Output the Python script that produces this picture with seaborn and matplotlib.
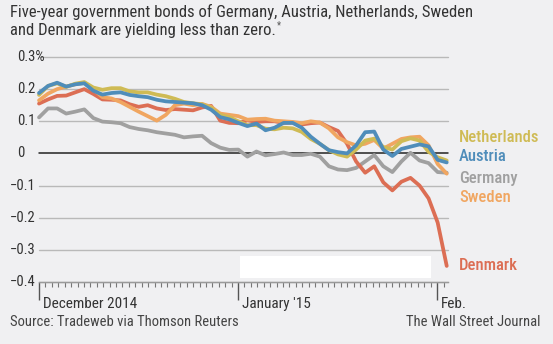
import numpy as np
import pandas as pd
import matplotlib
matplotlib.use("Agg")
import matplotlib.pyplot as plt
import seaborn as sns
from matplotlib import font_manager
from matplotlib.patches import Rectangle
from matplotlib.ticker import FixedLocator, MultipleLocator, NullFormatter

# ---------------- data ----------------
series_names = ["Netherlands", "Austria", "Germany", "Sweden", "Denmark"]
series_colors = ["#cfbb55", "#4f8dba", "#a0a0a0", "#f0a661", "#dc6e54"]

netherlands = [0.182, 0.210, 0.218, 0.207, 0.217, 0.222, 0.205, 0.198, 0.203, 0.203,
               0.193, 0.190, 0.190, 0.183, 0.178, 0.170, 0.160, 0.156, 0.153, 0.142,
               0.120, 0.113, 0.100, 0.088, 0.088, 0.077, 0.075, 0.080, 0.078, 0.067,
               0.045, 0.030, 0.010, -0.003, -0.010, 0.012, 0.040, 0.046, 0.020, 0.012,
               0.038, 0.047, 0.040, 0.005, -0.012, -0.022]
austria = [0.188, 0.210, 0.220, 0.208, 0.215, 0.218, 0.195, 0.183, 0.188, 0.190,
           0.182, 0.178, 0.175, 0.167, 0.162, 0.160, 0.158, 0.156, 0.150, 0.136,
           0.113, 0.106, 0.095, 0.085, 0.093, 0.072, 0.080, 0.095, 0.095, 0.080,
           0.052, 0.030, 0.010, 0.004, 0.000, 0.025, 0.066, 0.068, 0.012, -0.008,
           0.014, 0.021, 0.028, 0.022, -0.020, -0.028]
germany = [0.112, 0.140, 0.140, 0.124, 0.130, 0.137, 0.110, 0.099, 0.097, 0.094,
           0.082, 0.076, 0.072, 0.066, 0.062, 0.058, 0.050, 0.053, 0.055, 0.032,
           0.018, 0.011, 0.012, -0.010, 0.006, -0.006, -0.002, 0.003, -0.005, -0.005,
           -0.001, -0.010, -0.040, -0.050, -0.052, -0.045, -0.025, -0.005, -0.040, -0.058,
           -0.025, 0.002, -0.022, -0.030, -0.058, -0.060]
sweden = [0.165, 0.186, 0.200, 0.208, 0.215, 0.220, 0.200, 0.175, 0.171, 0.160,
          0.145, 0.130, 0.116, 0.102, 0.120, 0.150, 0.155, 0.150, 0.154, 0.145,
          0.124, 0.120, 0.116, 0.105, 0.107, 0.108, 0.102, 0.100, 0.098, 0.094,
          0.100, 0.096, 0.078, 0.050, 0.035, 0.025, 0.030, 0.042, 0.015, 0.030,
          0.045, 0.050, 0.052, 0.025, -0.033, -0.063]
denmark = [0.155, 0.168, 0.179, 0.180, 0.190, 0.200, 0.185, 0.168, 0.167, 0.165,
           0.153, 0.145, 0.150, 0.140, 0.135, 0.138, 0.136, 0.134, 0.143, 0.148,
           0.102, 0.095, 0.094, 0.103, 0.098, 0.100, 0.100, 0.095, 0.096, 0.090,
           0.094, 0.096, 0.082, 0.070, 0.030, -0.025, -0.060, -0.040, -0.090, -0.115,
           -0.088, -0.076, -0.100, -0.140, -0.215, -0.350]

# observation dates span Dec 1, 2014 .. Feb 2, 2015 (days since Dec 1)
obs_start_day, obs_end_day = 0.0, 63.5
month_ticks_days = [0, 31, 62]
month_tick_labels = ["December 2014", "January '15", "Feb."]
y_ticks = [0.3, 0.2, 0.1, 0.0, -0.1, -0.2, -0.3, -0.4]
y_tick_labels = ["0.3%", "0.2", "0.1", "0", "\u22120.1", "\u22120.2", "\u22120.3", "\u22120.4"]

title_lines = ["Five-year government bonds of Germany, Austria, Netherlands, Sweden",
               "and Denmark are yielding less than zero."]
footnote_mark = "*"
source_text = "Source: Tradeweb via Thomson Reuters"
credit_text = "The Wall Street Journal"

# ---------------- build long table ----------------
values = [netherlands, austria, germany, sweden, denmark]
n = len(netherlands)
days = np.linspace(obs_start_day, obs_end_day, n)
df = pd.concat([pd.DataFrame({"day": days, "yield": v, "country": name})
                for name, v in zip(series_names, values)], ignore_index=True)

# ---------------- fonts ----------------
sns.set_theme(style="white")
avail = {f.name for f in font_manager.fontManager.ttflist}
family = None
for cand in ["Liberation Sans Narrow", "Roboto Condensed", "Open Sans Condensed", "Roboto", "DejaVu Sans"]:
    if cand in avail:
        family = cand
        break
plt.rcParams["font.family"] = [family, "DejaVu Sans"]

BG = "#f0f0f2"
W, H = 553, 344
fig = plt.figure(figsize=(W / 100, H / 100), dpi=100, facecolor=BG)
ax = fig.add_axes([39 / W, 1 - 282 / H, (448 - 39) / W, (282 - 57) / H])
ax.set_facecolor(BG)

# gridlines
for yv in y_ticks:
    if yv == 0:
        continue
    ax.axhline(yv, color="#b9b9b9", lw=1.0, zorder=1)
ax.axhline(0, color="#222222", lw=1.1, zorder=2)

palette = dict(zip(series_names, series_colors))
sns.lineplot(data=df, x="day", y="yield", hue="country", palette=palette,
             hue_order=["Germany", "Denmark", "Sweden", "Netherlands", "Austria"],
             lw=2.7, legend=False, ax=ax, zorder=3, solid_joinstyle="round")
for line in ax.get_lines():
    line.set_clip_on(False)

ax.set_xlim(0, 63.7)
ax.set_ylim(-0.4, 0.3)
for s in ["top", "right", "left"]:
    ax.spines[s].set_visible(False)
ax.spines["bottom"].set_color("#9a9a9a")
ax.spines["bottom"].set_linewidth(1.0)
ax.set_xlabel("")
ax.set_ylabel("")
ax.set_yticks([])
ax.xaxis.set_major_locator(FixedLocator(month_ticks_days))
ax.xaxis.set_minor_locator(MultipleLocator(1))
ax.xaxis.set_major_formatter(NullFormatter())
ax.tick_params(axis="x", which="major", length=13, width=1.0, color="#555555", direction="out", bottom=True)
ax.tick_params(axis="x", which="minor", length=3.5, width=0.8, color="#777777", direction="out", bottom=True)

# x month labels
for d, lab in zip(month_ticks_days, month_tick_labels):
    ax.annotate(lab, xy=(d, -0.4), xycoords="data", xytext=(3, -19), textcoords="offset points",
                ha="left", va="baseline", fontsize=11, color="#333333")

# y labels (digits left aligned, minus hanging)
for yv, lab in zip(y_ticks, y_tick_labels):
    ypix = 1 - (57 + (0.3 - yv) / 0.1 * (225 / 7)) / H
    xpix = (10 if lab.startswith("\u2212") else 17) / W
    fig.text(xpix, ypix, lab, ha="left", va="center", fontsize=10.5, color="#333333")

# end labels
end_label_y = {"Netherlands": 137, "Austria": 157, "Germany": 178, "Sweden": 198, "Denmark": 266}
for name, col in zip(series_names, series_colors):
    fig.text(459 / W, 1 - end_label_y[name] / H, name, ha="left", va="center",
             fontsize=12, color=col, fontweight="medium")

# title and footer
fig.text(10 / W, 1 - 12 / H, title_lines[0], ha="left", va="center", fontsize=12, color="#333333")
t2 = fig.text(10 / W, 1 - 30 / H, title_lines[1], ha="left", va="center", fontsize=12, color="#333333")
fig.canvas.draw()
bb = t2.get_window_extent(renderer=fig.canvas.get_renderer())
fig.text((bb.x1 + 1) / W, 1 - 25 / H, footnote_mark, ha="left", va="center", fontsize=7, color="#555555")
fig.text(10 / W, 1 - 322 / H, source_text, ha="left", va="center", fontsize=10.5, color="#444444")
fig.text(541 / W, 1 - 322 / H, credit_text, ha="right", va="center", fontsize=10.5, color="#444444")

# white box present in the reference image
fig.patches.append(Rectangle((240 / W, 1 - 278 / H), (431 - 240) / W, (278 - 256) / H,
                             transform=fig.transFigure, facecolor="white", edgecolor="none", zorder=5))

fig.savefig("out.png", dpi=100, facecolor=BG)
